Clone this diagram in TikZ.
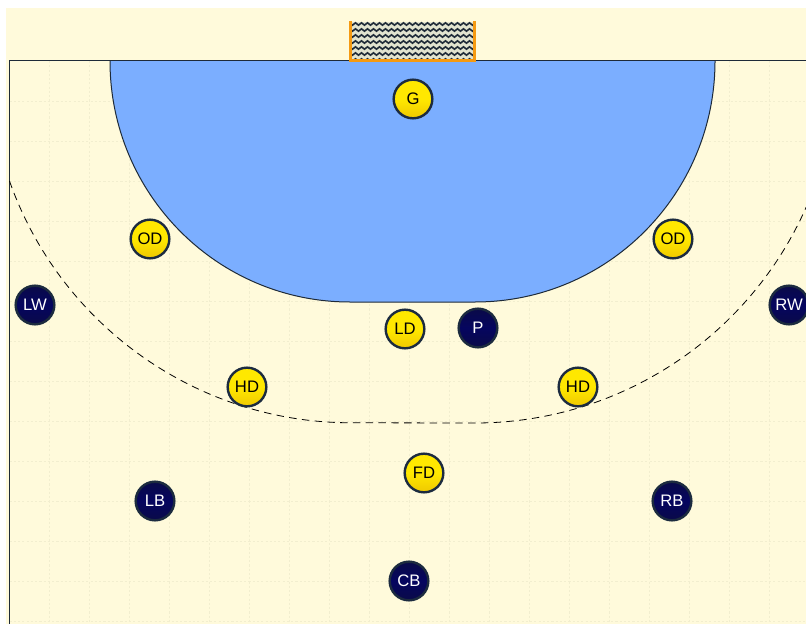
\documentclass[tikz,border=0pt]{standalone}
\usepackage{fontspec}
\setmainfont{Liberation Sans}
\usepackage{xcolor}
\usetikzlibrary{decorations.pathmorphing}
\definecolor{court}{HTML}{FFFADB}
\definecolor{area}{HTML}{7BAEFF}
\definecolor{gridc}{HTML}{F2EECF}
\definecolor{post}{HTML}{F59A12}
\definecolor{line}{HTML}{1E2A38}
\definecolor{netc}{HTML}{E2E4D0}
\definecolor{ringc}{HTML}{1C2B3F}
\definecolor{goldlow}{HTML}{EFC800}
\definecolor{goldtop}{HTML}{FFE800}
\definecolor{navylow}{HTML}{0A0A48}
\definecolor{navytop}{HTML}{05055F}
\tikzset{
  courtline/.style={draw=line, line width=0.75pt},
  gridline/.style={draw=gridc, line width=1.1pt, dash pattern=on 1.6pt off 1.6pt},
  nine/.style={draw=black, line width=0.6pt, dash pattern=on 5.6pt off 4pt},
  netline/.style={draw=line, line width=1.2pt, decorate, decoration={zigzag, segment length=4.5pt, amplitude=0.9pt}},
  player/.style={circle, draw=ringc, line width=1.8pt, minimum size=29pt, inner sep=0pt, font=\fontsize{12.5}{13}\selectfont},
  defender/.style={player, top color=goldtop, bottom color=goldlow, middle color=goldtop, text=black},
  attacker/.style={player, top color=navylow, bottom color=navylow, middle color=navytop, text=white}
}

\begin{document}
\begin{tikzpicture}[x=0.75pt, y=-0.75pt]
  \useasboundingbox (0,0) rectangle (806,624);
  % background
  \fill[white] (0,0) rectangle (806,624);
  \fill[court] (6,8) rectangle (806,624);
  % grid
  \foreach \gx in {49.5,89.5,...,809.5}
    \draw[gridline] (\gx,61) -- (\gx,624);
  \foreach \gy in {101.5,141.5,...,621.5}
    \draw[gridline] (9.5,\gy) -- (806,\gy);
  % goal area
  \fill[area] (110,61) arc[start angle=180, end angle=90, x radius=240, y radius=241] -- (475,302) arc[start angle=90, end angle=0, x radius=240, y radius=241] -- cycle;
  \draw[courtline] (110,61) arc[start angle=180, end angle=90, x radius=240, y radius=241] -- (475,302) arc[start angle=90, end angle=0, x radius=240, y radius=241];
  % sidelines
  \draw[courtline] (9.5,624) -- (9.5,61) -- (806,61);
  % free throw line
  \draw[nine] (9.5,181) arc[start angle=160.6, end angle=90, radius=362] -- (475,423) arc[start angle=90, end angle=23.8, radius=362];
  % goal
  \fill[netc] (351,22) rectangle (474,60);
  \begin{scope}
    \clip (351,22) rectangle (474,60);
    \foreach \ny in {24,30,...,60}
      \draw[netline] (348,\ny) -- (478,\ny);
  \end{scope}
  \draw[post, line width=2.1pt] (350.7,21.5) -- (350.7,60.3) -- (474.2,60.3) -- (474.2,21.5);
  % defenders
  \node[defender] (g) at (413,99) {G};
  \node[defender] (odl) at (150,239) {OD};
  \node[defender] (odr) at (673,239) {OD};
  \node[defender] (ld) at (405,329) {LD};
  \node[defender] (hdl) at (247,387) {HD};
  \node[defender] (hdr) at (578,387) {HD};
  \node[defender] (fd) at (424,473) {FD};
  % attackers
  \node[attacker] (lw) at (35,305) {LW};
  \node[attacker] (rw) at (789,305) {RW};
  \node[attacker] (p) at (478,328) {P};
  \node[attacker] (lb) at (155,501) {LB};
  \node[attacker] (rb) at (672,501) {RB};
  \node[attacker] (cb) at (409,581) {CB};
\end{tikzpicture}
\end{document}
